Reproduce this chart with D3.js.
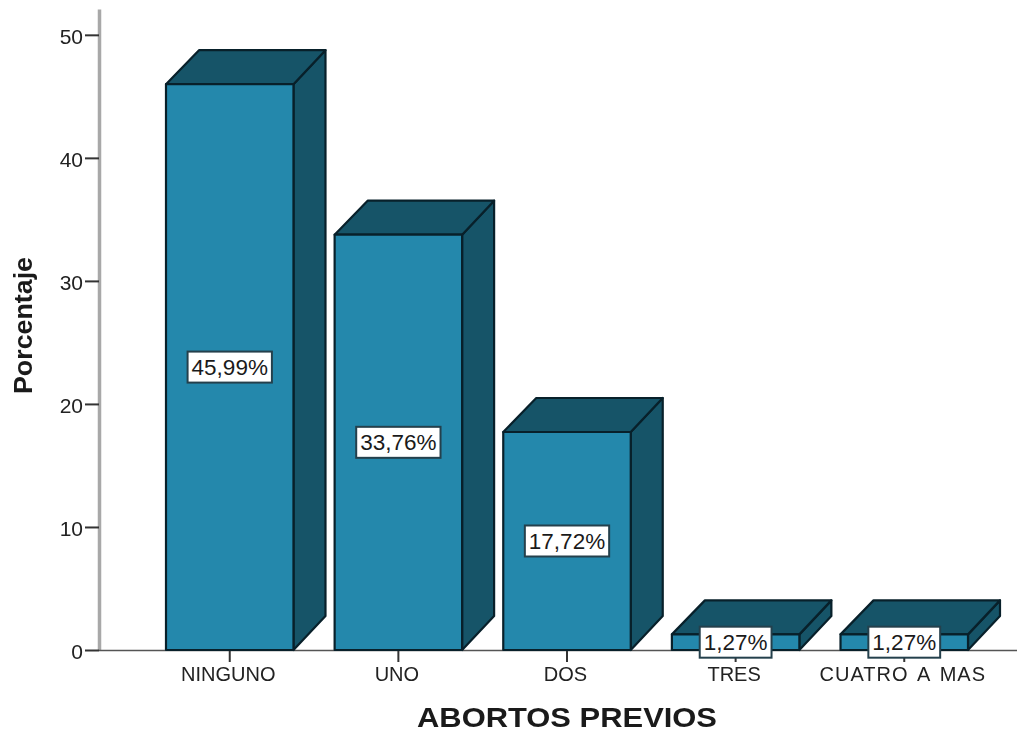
<!DOCTYPE html>
<html><head><meta charset="utf-8">
<script src="https://cdn.jsdelivr.net/npm/d3@7"></script>
<style>
html,body{margin:0;padding:0;background:#fff;overflow:hidden}
text{font-family:"Liberation Sans",Arial,sans-serif;fill:#222}
svg{filter:blur(0.45px)}
</style></head><body>
<svg id="c" width="1017" height="734"></svg>
<script>
const categories = ["NINGUNO","UNO","DOS","TRES","CUATRO A MAS"];
const values = [45.99,33.76,17.72,1.27,1.27];
const labels = ["45,99%","33,76%","17,72%","1,27%","1,27%"];
const yTicks = [0,10,20,30,40,50];
const xTitle = "ABORTOS PREVIOS";
const yTitle = "Porcentaje";

const svg = d3.select("#c");
const x = d3.scaleBand().domain(categories).range([166,968]).paddingInner(0.244).paddingOuter(0);
const y = d3.scaleLinear().domain([0,52.1]).range([650,9]);
const depth = 32;
const front = "#2488ac", dark = "#165468", edge = "#08202a";

const yAxis = svg.append("g").attr("transform","translate(99,0)")
  .call(d3.axisLeft(y).tickValues(yTicks).tickSize(14).tickPadding(2).tickSizeOuter(0));
yAxis.select(".domain").attr("stroke","#a8a8a8").attr("stroke-width",3.5);
yAxis.selectAll(".tick line").attr("stroke","#333").attr("stroke-width",2);
yAxis.selectAll(".tick text").attr("font-size",21).attr("font-family",null).style("fill","#222").attr("dy","0.42em");

const xAxis = svg.append("g").attr("transform","translate(0,650)")
  .call(d3.axisBottom(x).tickSize(12).tickPadding(5).tickSizeOuter(0));
xAxis.select(".domain").attr("d","M99,0.5H1017").attr("stroke","#555").attr("stroke-width",1.6);
xAxis.selectAll(".tick line").attr("stroke","#333").attr("stroke-width",2);
xAxis.selectAll(".tick text").attr("font-size",20).attr("font-family",null).attr("dx",-1.5).style("fill","#222");
xAxis.selectAll(".tick text").filter(d=>d.includes(" ")).style("letter-spacing","1px").style("word-spacing","3px");

const bars = svg.append("g").selectAll("g").data(categories).join("g");
const path = (d,i,kind)=>{
  const x0=x(d), x1=x0+x.bandwidth(), y1=y(values[i]), y0=y(0);
  const p=d3.path();
  if(kind==="front"){p.rect(x0,y1,x.bandwidth(),y0-y1);}
  if(kind==="top"){p.moveTo(x0,y1);p.lineTo(x0+depth+1,y1-depth-2);p.lineTo(x1+depth,y1-depth-2);p.lineTo(x1,y1);p.closePath();}
  if(kind==="side"){p.moveTo(x1,y1);p.lineTo(x1+depth,y1-depth-2);p.lineTo(x1+depth,y0-depth-2);p.lineTo(x1,y0);p.closePath();}
  return p.toString();
};
["side","top","front"].forEach(k=>{
  bars.append("path").attr("d",(d,i)=>path(d,i,k))
    .attr("fill",k==="front"?front:dark).attr("stroke",edge).attr("stroke-width",2.2).attr("stroke-linejoin","round");
});

const lab = svg.append("g").selectAll("g").data(categories).join("g")
  .attr("transform",(d,i)=>`translate(${x(d)+x.bandwidth()/2},${(y(0)+y(values[i]))/2})`);
lab.append("rect").attr("fill","#fff").attr("stroke","#24404c").attr("stroke-width",2);
lab.append("text").attr("text-anchor","middle").attr("dy","0.36em").attr("font-size",22.5).style("fill","#1a1a1a").text((d,i)=>labels[i]);
lab.each(function(){
  const g=d3.select(this), w=g.select("text").node().getComputedTextLength()+8;
  g.select("rect").attr("x",-w/2).attr("y",-15.5).attr("width",w).attr("height",31);
});

svg.append("text").attr("x",417).attr("y",727)
  .attr("font-size",28).attr("font-weight","bold").attr("textLength",300).attr("lengthAdjust","spacingAndGlyphs")
  .style("fill","#1a1a1a").text(xTitle);
svg.append("text").attr("transform","translate(32,394) rotate(-90)")
  .attr("font-size",26).attr("font-weight","bold").attr("textLength",137).attr("lengthAdjust","spacingAndGlyphs")
  .style("fill","#1a1a1a").text(yTitle);
</script>
</body></html>
